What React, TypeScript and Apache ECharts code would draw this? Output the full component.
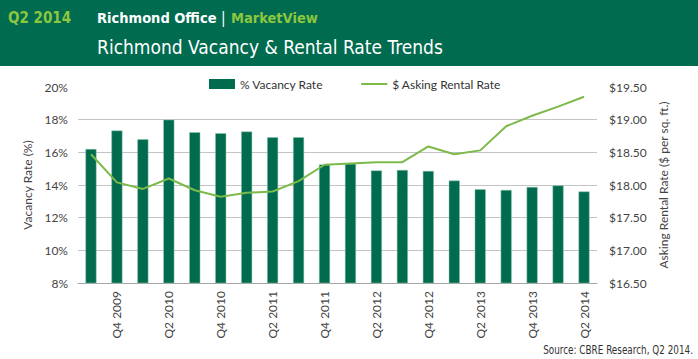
import React, { useEffect, useRef } from "react";
import * as echarts from "echarts";

const categories = [
  "Q3 2009", "Q4 2009", "Q1 2010", "Q2 2010", "Q3 2010", "Q4 2010", "Q1 2011", "Q2 2011",
  "Q3 2011", "Q4 2011", "Q1 2012", "Q2 2012", "Q3 2012", "Q4 2012", "Q1 2013", "Q2 2013",
  "Q3 2013", "Q4 2013", "Q1 2014", "Q2 2014",
];
const vacancyRate = [
  16.2, 17.33, 16.8, 18.0, 17.23, 17.17, 17.27, 16.92, 16.92, 15.25,
  15.3, 14.89, 14.92, 14.86, 14.27, 13.74, 13.7, 13.88, 13.97, 13.6,
];
const askingRent = [
  18.47, 18.04, 17.94, 18.1, 17.92, 17.82, 17.88, 17.9, 18.06, 18.31,
  18.33, 18.35, 18.35, 18.59, 18.47, 18.53, 18.9, 19.06, 19.2, 19.35,
];
const leftTicks = { min: 8, max: 20, interval: 2 };
const rightTicks = { min: 16.5, max: 19.5, interval: 0.5 };

const DARK = "#006b4f";
const LIGHT = "#7cba4a";
const NARROW = '"Liberation Sans Narrow", "DejaVu Sans Condensed", "Liberation Sans", sans-serif';
const LABEL_FONT = 'Lato, "Open Sans", sans-serif';
const LINE_ICON = "path://M0,0 H0.01 V0.01 H0 Z M0,4 H26 V6 H0 Z M25.99,9.99 H26 V10 H25.99 Z";

export default function App() {
  const ref = useRef<HTMLDivElement>(null);
  useEffect(() => {
    document.body.style.margin = "0";
    const chart = echarts.init(ref.current!, null, { renderer: "svg" });
    chart.setOption({
      animation: false,
      backgroundColor: "#ffffff",
      graphic: [
        { type: "rect", left: 0, top: 0, shape: { width: 698, height: 66 }, style: { fill: DARK }, z: 0 },
        { type: "text", x: 8, y: 18, style: { text: "Q2 2014", fill: "#8dc63f", font: `bold 15px ${NARROW}`, verticalAlign: "middle" } },
        { type: "text", x: 97, y: 18, style: { text: "Richmond Office", fill: "#ffffff", font: `bold 14.5px ${NARROW}`, verticalAlign: "middle" } },
        { type: "text", x: 221, y: 18, style: { text: "|", fill: "#ffffff", font: `15px ${NARROW}`, verticalAlign: "middle" } },
        { type: "text", x: 231, y: 18, style: { text: "MarketView", fill: "#8dc63f", font: `bold 14.5px ${NARROW}`, verticalAlign: "middle" } },
        { type: "text", x: 97, y: 47, style: { text: "Richmond Vacancy & Rental Rate Trends", fill: "#ffffff", font: `19px ${NARROW}`, verticalAlign: "middle" } },
        {
          type: "text", x: 693, y: 350, scaleX: 0.82,
          style: { text: "Source: CBRE Research, Q2 2014.", fill: "#333333", font: `12px ${NARROW}`, align: "right", verticalAlign: "middle" },
        },
      ],
      legend: {
        left: 204,
        top: 73,
        itemWidth: 26,
        itemHeight: 10,
        itemGap: 38,
        textStyle: { fontFamily: LABEL_FONT, fontSize: 12, color: "#333" },
        data: [
          { name: "% Vacancy Rate", icon: "rect", itemStyle: { color: DARK, borderWidth: 0 } },
          { name: "$ Asking Rental Rate", icon: LINE_ICON, itemStyle: { color: LIGHT, borderWidth: 0 } },
        ],
      },
      grid: { left: 78, right: 101, top: 87, bottom: 76 },
      xAxis: {
        type: "category",
        data: categories,
        boundaryGap: true,
        axisLine: { lineStyle: { color: "#a6a6a6" } },
        axisTick: { interval: 0, length: 5, lineStyle: { color: "#a6a6a6" } },
        axisLabel: {
          interval: (i: number) => i % 2 === 1,
          rotate: 90,
          margin: 8,
          fontFamily: LABEL_FONT,
          fontSize: 12,
          color: "#444",
        },
      },
      yAxis: [
        {
          type: "value",
          ...leftTicks,
          name: "Vacancy Rate (%)",
          nameLocation: "middle",
          nameRotate: 90,
          nameGap: 35,
          nameTextStyle: { fontFamily: LABEL_FONT, fontSize: 12, color: "#444" },
          axisLine: { show: false },
          axisTick: { show: false },
          axisLabel: { formatter: "{value}%", fontFamily: LABEL_FONT, fontSize: 12, color: "#444", margin: 10 },
          splitLine: {
            lineStyle: {
              color: ["#c4c4c4", "#c4c4c4", "#c4c4c4", "#c4c4c4", "#c4c4c4", "#c4c4c4", "rgba(0,0,0,0)"],
            },
          },
        },
        {
          type: "value",
          ...rightTicks,
          name: "Asking Rental Rate ($ per sq. ft.)",
          nameLocation: "middle",
          nameRotate: 90,
          nameGap: 58,
          nameTextStyle: { fontFamily: LABEL_FONT, fontSize: 12, color: "#444" },
          axisLine: { show: false },
          axisTick: { show: false },
          splitLine: { show: false },
          axisLabel: {
            formatter: (v: number) => "$" + v.toFixed(2),
            fontFamily: LABEL_FONT,
            fontSize: 12,
            color: "#444",
            margin: 12,
          },
        },
      ],
      series: [
        {
          name: "% Vacancy Rate",
          type: "bar",
          data: vacancyRate,
          barWidth: 11,
          itemStyle: { color: DARK, borderColor: "#8fc7a8", borderWidth: 0.5 },
        },
        {
          name: "$ Asking Rental Rate",
          type: "line",
          yAxisIndex: 1,
          data: askingRent,
          symbol: "none",
          lineStyle: { color: LIGHT, width: 2 },
          itemStyle: { color: LIGHT },
        },
      ],
    });
    return () => chart.dispose();
  }, []);
  return <div ref={ref} style={{ width: 698, height: 359 }} />;
}
